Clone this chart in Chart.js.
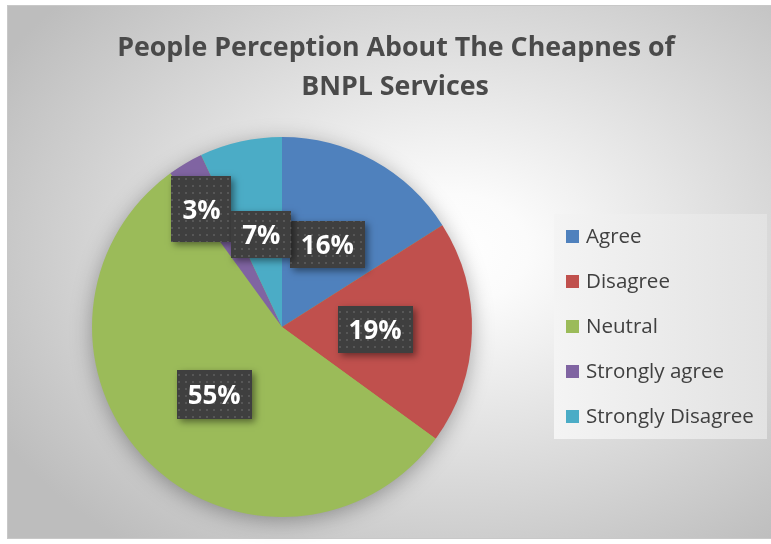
<!DOCTYPE html>
<html><head><meta charset="utf-8">
<script src="https://cdn.jsdelivr.net/npm/chart.js@4.4.1/dist/chart.umd.min.js"></script>
<style>html,body{margin:0;padding:0;background:#fff;}#wrap{width:771px;height:544px;position:relative}canvas{display:block}</style>
</head><body><div id="wrap"><canvas id="c" width="771" height="544"></canvas></div>
<script>
// ---- data ----
const categories = ['Agree', 'Disagree', 'Neutral', 'Strongly agree', 'Strongly Disagree'];
const values = [16, 19, 55, 3, 7];
const colors = ['#4F81BD', '#C0504D', '#9BBB59', '#8064A2', '#4BACC6'];
const titleLines = ['People Perception About The Cheapnes of', 'BNPL Services'];

// ---- style helpers (positions of labels along slice radius) ----
const labelRadius = [0.495, 0.49, 0.505, 0.75, 0.5];
const labelShift = [[0, 0], [0, 0], [0, 0], [-8, 5], [0, 0]];
const labelBoxH = [47, 47, 49, 66, 47];
const FAMILY = "'Open Sans', 'DejaVu Sans', sans-serif";

function fitSize(ctx, text, weight, target) {
  ctx.font = weight + ' 100px ' + FAMILY;
  return 100 * target / ctx.measureText(text).width;
}

function makePattern(ctx) {
  const p = document.createElement('canvas');
  p.width = 7; p.height = 7;
  const g = p.getContext('2d');
  g.fillStyle = '#3f3f3f'; g.fillRect(0, 0, 7, 7);
  g.fillStyle = '#575757'; g.fillRect(3, 3, 2, 2);
  return ctx.createPattern(p, 'repeat');
}

const bgPlugin = {
  id: 'bg',
  beforeDraw(chart) {
    const ctx = chart.ctx;
    ctx.save();
    ctx.fillStyle = '#ffffff';
    ctx.fillRect(0, 0, chart.width, chart.height);
    const x0 = 7, y0 = 5, x1 = 771, y1 = 538;
    ctx.beginPath(); ctx.rect(x0, y0, x1 - x0, y1 - y0); ctx.clip();
    ctx.translate(450, 250);
    ctx.scale(1, 0.72);
    const g = ctx.createRadialGradient(0, 0, 0, 0, 0, 520);
    g.addColorStop(0, '#ffffff');
    g.addColorStop(0.15, '#fbfbfb');
    g.addColorStop(1, '#bdbdbd');
    ctx.fillStyle = g;
    ctx.fillRect(-800, -800, 1600, 1600);
    ctx.restore();
    ctx.save();
    ctx.strokeStyle = '#c8c8c8'; ctx.lineWidth = 1;
    ctx.strokeRect(x0 + 0.5, y0 + 0.5, x1 - x0, y1 - y0);
    ctx.restore();
  }
};

const shadowPlugin = {
  id: 'pieShadow',
  beforeDatasetsDraw(chart) {
    const arc = chart.getDatasetMeta(0).data[0];
    if (!arc) return;
    const p = arc.getProps(['x', 'y', 'outerRadius'], true);
    const ctx = chart.ctx;
    ctx.save();
    ctx.shadowColor = 'rgba(0,0,0,0.35)';
    ctx.shadowBlur = 22;
    ctx.shadowOffsetY = 4;
    ctx.fillStyle = '#9BBB59';
    ctx.beginPath(); ctx.arc(p.x, p.y, p.outerRadius - 1, 0, Math.PI * 2); ctx.fill();
    ctx.restore();
  }
};

const overlayPlugin = {
  id: 'overlay',
  afterDraw(chart) {
    const ctx = chart.ctx;
    ctx.save();
    // title
    const ts = fitSize(ctx, titleLines[0], 'bold', 558);
    ctx.font = 'bold ' + ts.toFixed(2) + 'px ' + FAMILY;
    ctx.fillStyle = '#4a4a4a';
    ctx.textAlign = 'center';
    ctx.textBaseline = 'alphabetic';
    ctx.fillText(titleLines[0], 396, 56);
    ctx.fillText(titleLines[1], 395, 95);

    // legend box
    const lg = ctx.createLinearGradient(554, 0, 767, 0);
    lg.addColorStop(0, '#f4f4f4');
    lg.addColorStop(1, '#e2e2e2');
    ctx.fillStyle = lg;
    ctx.fillRect(554, 214, 213, 225);
    const ls = fitSize(ctx, 'Strongly Disagree', 'normal', 168);
    ctx.font = ls.toFixed(2) + 'px ' + FAMILY;
    ctx.textAlign = 'left';
    categories.forEach((c, i) => {
      const base = 243 + i * 45;
      ctx.fillStyle = colors[i];
      ctx.fillRect(566, base - 13, 13, 13);
      ctx.fillStyle = '#404040';
      ctx.fillText(c, 586, base);
    });

    // data labels
    const total = values.reduce((a, b) => a + b, 0);
    const meta = chart.getDatasetMeta(0);
    const fs = fitSize(ctx, '16%', 'bold', 53);
    const pat = makePattern(ctx);
    meta.data.forEach((arc, i) => {
      const p = arc.getProps(['x', 'y', 'startAngle', 'endAngle', 'outerRadius'], true);
      const mid = (p.startAngle + p.endAngle) / 2;
      const r = p.outerRadius * labelRadius[i];
      const cx = p.x + Math.cos(mid) * r + labelShift[i][0];
      const cy = p.y + Math.sin(mid) * r + labelShift[i][1];
      const txt = Math.round(values[i] / total * 100) + '%';
      ctx.font = 'bold ' + fs.toFixed(2) + 'px ' + FAMILY;
      const m = ctx.measureText(txt);
      const bw = Math.round(m.width + 22);
      const bh = labelBoxH[i];
      const bx = Math.round(cx - bw / 2), by = Math.round(cy - bh / 2);
      ctx.save();
      ctx.shadowColor = 'rgba(0,0,0,0.45)';
      ctx.shadowBlur = 7;
      ctx.shadowOffsetX = 3;
      ctx.shadowOffsetY = 3;
      ctx.fillStyle = '#3f3f3f';
      ctx.fillRect(bx, by, bw, bh);
      ctx.restore();
      ctx.fillStyle = pat;
      ctx.fillRect(bx, by, bw, bh);
      ctx.fillStyle = '#ffffff';
      ctx.textAlign = 'center';
      ctx.textBaseline = 'alphabetic';
      const baseY = cy + (m.actualBoundingBoxAscent - m.actualBoundingBoxDescent) / 2;
      ctx.fillText(txt, cx, baseY);
    });
    ctx.restore();
  }
};

new Chart(document.getElementById('c').getContext('2d'), {
  type: 'pie',
  data: {
    labels: categories,
    datasets: [{ data: values, backgroundColor: colors, borderWidth: 0, hoverOffset: 0, offset: 0 }]
  },
  options: {
    responsive: false,
    animation: false,
    events: [],
    layout: { padding: { left: 92, top: 137, right: 299, bottom: 27 } },
    plugins: { legend: { display: false }, title: { display: false }, tooltip: { enabled: false } }
  },
  plugins: [bgPlugin, shadowPlugin, overlayPlugin]
});
</script>
</body></html>
